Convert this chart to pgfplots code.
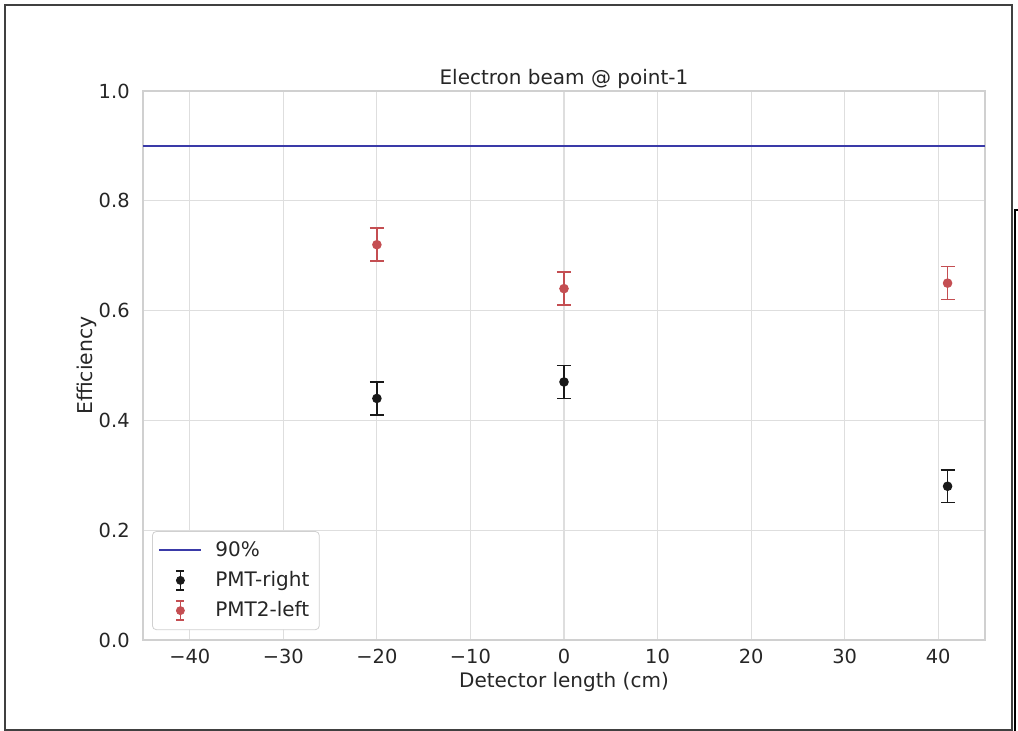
\documentclass[border=0pt]{standalone}
\usepackage{pgfplots}
\pgfplotsset{compat=1.18}
\usepackage{fontspec}
\setmainfont{DejaVu Sans}
\definecolor{lineblue}{RGB}{58,58,168}
\definecolor{ptred}{RGB}{196,78,82}
\definecolor{ptblack}{RGB}{25,25,25}
\definecolor{gridc}{RGB}{222,222,222}
\definecolor{spinec}{RGB}{208,208,208}
\definecolor{textc}{RGB}{38,38,38}

\pgfplotstableread{
x y e
-20 0.44 0.03
0 0.47 0.03
41 0.28 0.03
}\pmtright
\pgfplotstableread{
x y e
-20 0.72 0.03
0 0.64 0.03
41 0.65 0.03
}\pmtleft

\begin{document}
\begin{tikzpicture}
\path[use as bounding box] (-71.5pt,-45.5pt) rectangle (437.5pt,320pt);
\draw[black!75, line width=0.9pt] (-69pt,-45pt) rectangle (434.5pt,317.5pt);
\draw[black, line width=0.6pt] (436pt,-46pt) -- (436pt,215pt) -- (439pt,215pt);
\begin{axis}[
  at={(0pt,0pt)}, anchor=south west,
  scale only axis, width=421pt, height=274.5pt,
  xmin=-45, xmax=45, ymin=0, ymax=1,
  xtick={-40,-30,-20,-10,0,10,20,30,40},
  xticklabels={−40,−30,−20,−10,0,10,20,30,40},
  ytick={0,0.2,0.4,0.6,0.8,1.0},
  yticklabels={0.0,0.2,0.4,0.6,0.8,1.0},
  major tick length=0pt,
  grid=major,
  grid style={gridc, line width=0.6pt},
  axis line style={spinec, line width=0.6pt},
  tick label style={font=\fontsize{9.7}{11}\selectfont, text=textc},
  xticklabel style={anchor=north, inner sep=0pt, yshift=-4.5pt},
  yticklabel style={anchor=east, inner sep=0pt, xshift=-6.5pt},
  every axis title shift=0pt,
  title={Electron beam @ point-1},
  title style={at={(axis description cs:0.5,1)}, anchor=base, yshift=3pt, inner sep=0pt, font=\fontsize{10}{12}\selectfont, text=textc},
  xlabel={Detector length (cm)},
  xlabel style={at={(axis description cs:0.5,-0.0874)}, anchor=base, inner sep=0pt, font=\fontsize{10}{12}\selectfont, text=textc},
  ylabel={Efficiency},
  ylabel style={at={(axis description cs:-0.0665,0.5)}, anchor=center, inner sep=0pt, font=\fontsize{10.2}{12}\selectfont, text=textc},
  legend cell align=left,
  legend style={at={(axis description cs:0.0107,0.018)}, anchor=south west,
    draw=spinec, rounded corners=2pt, fill=white, text=textc,
    font=\fontsize{10}{12}\selectfont, row sep=2pt, inner sep=3pt},
  legend image code/.code={\draw[#1] (0pt,0pt) -- (21pt,0pt); \path[draw=none,fill=none] (0pt,0pt) -- (26pt,0pt);},
]
\addlegendimage{lineblue, line width=1pt}
\addlegendentry{90\%}
\addlegendimage{legend image code/.code={
  \draw[ptblack, line width=0.75pt] (10.5pt,-4.75pt) -- (10.5pt,4.75pt)
     (8.5pt,-4.75pt) -- (12.5pt,-4.75pt) (8.5pt,4.75pt) -- (12.5pt,4.75pt);
  \fill[ptblack] (10.5pt,0pt) circle (2pt);
  \path[draw=none,fill=none] (0pt,0pt) -- (26pt,0pt);}}
\addlegendentry{PMT-right}
\addlegendimage{legend image code/.code={
  \draw[ptred, line width=0.75pt] (10.5pt,-4.75pt) -- (10.5pt,4.75pt)
     (8.5pt,-4.75pt) -- (12.5pt,-4.75pt) (8.5pt,4.75pt) -- (12.5pt,4.75pt);
  \fill[ptred] (10.5pt,0pt) circle (2pt);
  \path[draw=none,fill=none] (0pt,0pt) -- (26pt,0pt);}}
\addlegendentry{PMT2-left}

\addplot[lineblue, line width=1pt, forget plot] coordinates {(-45,0.9) (45,0.9)};

\addplot[ptblack, only marks, mark=*, mark size=2pt, line width=0.75pt, forget plot,
  error bars/.cd, y dir=both, y explicit,
  error bar style={line width=0.75pt, ptblack},
  error mark options={rotate=90, mark size=3.5pt, line width=0.75pt, ptblack}]
  table[x=x, y=y, y error=e] {\pmtright};

\addplot[ptred, only marks, mark=*, mark size=2pt, line width=0.75pt, forget plot,
  error bars/.cd, y dir=both, y explicit,
  error bar style={line width=0.75pt, ptred},
  error mark options={rotate=90, mark size=3.5pt, line width=0.75pt, ptred}]
  table[x=x, y=y, y error=e] {\pmtleft};
\end{axis}
\end{tikzpicture}
\end{document}
